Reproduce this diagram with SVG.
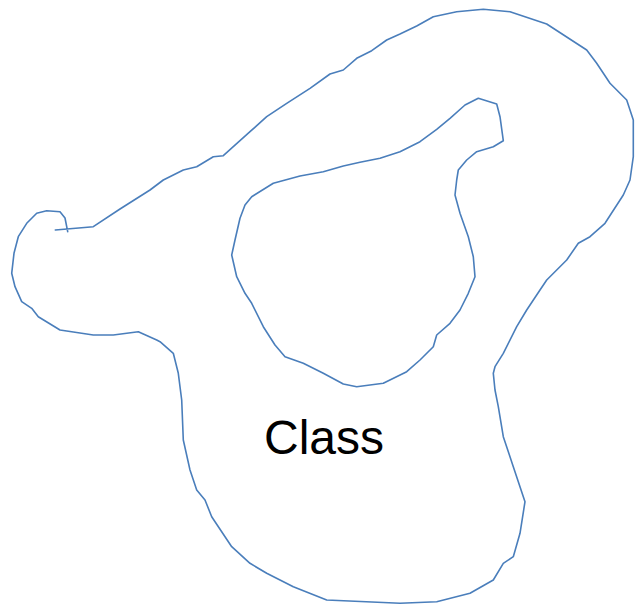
<svg xmlns="http://www.w3.org/2000/svg" width="635" height="607" viewBox="0 0 635 607">
<style>
.o{fill:none;stroke:#4a7ebb;stroke-width:1.6;stroke-linejoin:round;stroke-linecap:round}
.t{font-family:"Liberation Sans",Arial,sans-serif;font-size:48px;fill:#000}
</style>
<rect width="635" height="607" fill="#fff"/>
<g id="class">
<path class="o" d="M55.3,230 L93.3,226.7 L120,209 L150,190 L163.3,180 L183.3,170 L196.7,166.7 L213.3,156.7 L223.3,155.7 L233.3,146.7 L250,131.7 L266.7,116.7 L286.7,103.3 L310,88.3 L330,74 L343.3,70 L356.7,58.3 L371.7,50.7 L386.7,40 L400,34 L416.7,26 L433.3,16.7 L456.7,11.7 L483.3,9.3 L510,11.7 L546.7,24 L586.7,50 L596.7,63.3 L610,83.3 L626.7,100 L633.3,120 L633.3,156.7 L630,180 L623.3,195 L605,223.3 L590,236.7 L578.3,243.3 L566.7,260 L546.7,280 L540,290 L526.7,310 L516.7,326.7 L503.3,353.3 L495,366.7 L493.3,373.3 L495,390 L498.3,406.7 L503.3,436.7 L513.3,466.7 L525,501.7 L520,533.3 L513.3,556.7 L503.3,563.3 L493.3,580 L470,593.3 L436.7,601.7 L400,603.3 L326.7,600 L293.3,586.7 L266.7,573.3 L250,563.3 L231.7,546.7 L211.7,516.7 L205,500 L196.7,490 L190,470 L183.3,440 L181.7,400 L178.3,373.3 L173.3,353.3 L160,341.7 L156.7,340 L138.3,331.7 L113.3,335 L93.3,335 L60,330 L38.3,316.7 L31.7,308.3 L21.7,301.7 L15,286.7 L11.7,273.3 L14,253.3 L18.3,236.7 L26.7,223.3 L36.7,213.3 L46.7,210.7 L60,211.7 L65,218 L67.7,231.7"/>
<path class="o" d="M450,118.3 L465,105 L478.3,98.3 L496.7,104 L500,116.7 L503.3,140.7 L493.3,146.7 L476.7,151.7 L466.7,160 L458.3,170 L456.7,180 L455,195 L460,213.3 L468.3,236.7 L473.3,256.7 L475,276.7 L468.3,293.3 L460,310 L450,323.3 L436.7,335 L433.3,346.7 L420,360 L406.7,371.7 L383.3,383.3 L356.7,386.7 L343.3,384 L323.3,373.3 L303.3,363.3 L285,356.7 L275,345 L263.3,326.7 L251.7,303.3 L245,293.3 L236.7,276.7 L231.7,255 L235,240 L240,218.3 L245,205 L251.7,196.7 L273.3,183.3 L300,176 L323.3,171.7 L343.3,166 L360,162.3 L380,158.3 L400,151.7 L420,141.7 L436.7,129.3 Z"/>
<text class="t" x="264" y="454">Class</text>
</g>
</svg>
